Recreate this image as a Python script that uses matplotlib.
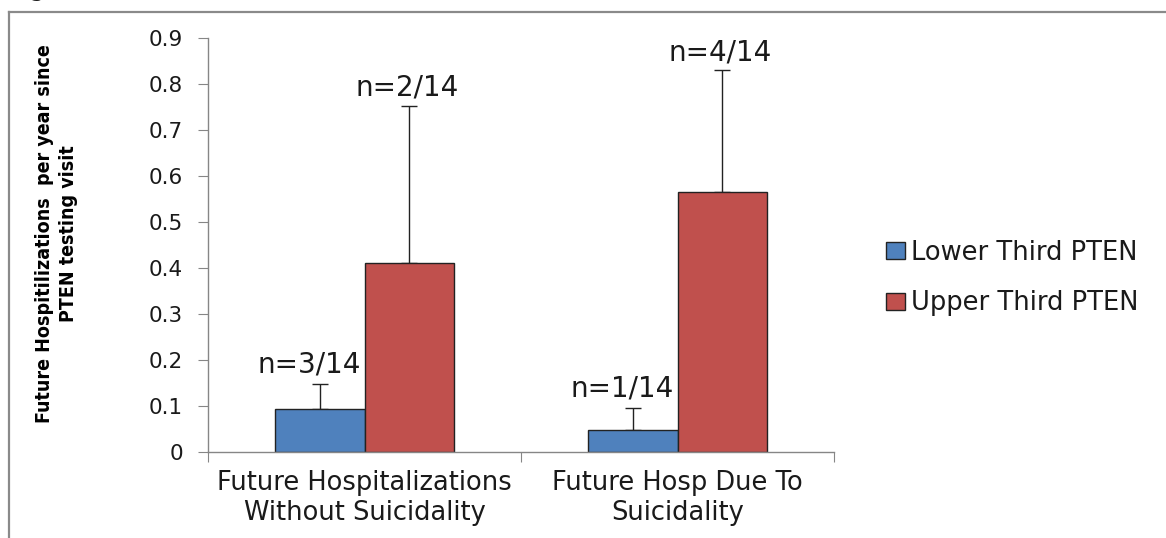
import matplotlib.pyplot as plt
from matplotlib.lines import Line2D
import numpy as np

# -----------------------------
#  Data
# -----------------------------
categories = ["Future Hospitalizations\nWithout Suicidality", "Future Hosp Due To\nSuicidality"]
series_names = ["Lower Third PTEN", "Upper Third PTEN"]
lower_vals = [0.093, 0.048]
lower_err = [0.055, 0.048]
upper_vals = [0.410, 0.565]
upper_err = [0.342, 0.265]
lower_counts = ["n=3/14", "n=1/14"]
upper_counts = ["n=2/14", "n=4/14"]
y_ticks = [0, 0.1, 0.2, 0.3, 0.4, 0.5, 0.6, 0.7, 0.8, 0.9]
y_tick_labels = ["0", "0.1", "0.2", "0.3", "0.4", "0.5", "0.6", "0.7", "0.8", "0.9"]

blue = "#4F81BD"
red = "#C0504D"
gray = "#868686"
txt = "#1a1a1a"

fig = plt.figure(figsize=(11.66, 5.38), dpi=100)
ax = fig.add_axes([208 / 1166, 1 - 452 / 538, 626 / 1166, 414 / 538])

x = np.arange(len(categories))
w = 0.285
ax.bar(x - w / 2, lower_vals, w, color=blue, edgecolor="#222222", linewidth=1.0,
       label=series_names[0], zorder=2)
ax.bar(x + w / 2, upper_vals, w, color=red, edgecolor="#222222", linewidth=1.0,
       label=series_names[1], zorder=2)

# upward-only error bars
ax.errorbar(x - w / 2, lower_vals, yerr=[np.zeros(2), lower_err], fmt="none",
            ecolor="#222222", elinewidth=1.0, capsize=5.5, capthick=1.0, zorder=1)
ax.errorbar(x + w / 2, upper_vals, yerr=[np.zeros(2), upper_err], fmt="none",
            ecolor="#222222", elinewidth=1.0, capsize=5.5, capthick=1.0, zorder=1)

# counts above the error bars
for i in range(len(categories)):
    ax.text(x[i] - w / 2 - 0.035, lower_vals[i] + lower_err[i] + 0.025, lower_counts[i],
            ha="center", va="baseline", fontsize=20, color=txt)
    ax.text(x[i] + w / 2 - 0.005, upper_vals[i] + upper_err[i] + 0.022, upper_counts[i],
            ha="center", va="baseline", fontsize=20, color=txt)

ax.set_xlim(-0.5, 1.5)
ax.set_ylim(0, 0.9)
ax.set_yticks(y_ticks)
ax.set_yticklabels(y_tick_labels, fontsize=15.5, color=txt)
ax.set_xticks([-0.5, 0.5, 1.5])
ax.set_xticklabels([])
ax.set_xticks(x, minor=True)
ax.set_xticklabels(categories, minor=True, fontsize=18.5, color=txt, linespacing=1.2)
ax.tick_params(axis="x", which="minor", length=0, pad=13)
ax.tick_params(axis="x", which="major", length=7, color=gray, direction="out")
ax.tick_params(axis="y", length=7, color=gray, direction="out", pad=11)

for side in ["top", "right"]:
    ax.spines[side].set_visible(False)
for side in ["left", "bottom"]:
    ax.spines[side].set_color(gray)
    ax.spines[side].set_linewidth(1.0)

ax.set_ylabel("Future Hospitilizations  per year since\nPTEN testing visit",
              family="DejaVu Sans", fontstretch="condensed", fontweight="bold",
              fontsize=14, linespacing=1.3, color="black")
ax.yaxis.set_label_coords(-0.208, 0.527)

leg = ax.legend(loc="center left", bbox_to_anchor=(863 / 1166, 1 - 278 / 538),
                bbox_transform=fig.transFigure, frameon=False, fontsize=18.5,
                handlelength=0.75, handleheight=0.65, handletextpad=0.2,
                labelspacing=0.95)
for t in leg.get_texts():
    t.set_color(txt)

# outer frame around the chart area
fig.add_artist(Line2D([9 / 1166, 9 / 1166], [0, 1 - 12 / 538], color="#8a8a8a",
                      linewidth=1.6, transform=fig.transFigure))
fig.add_artist(Line2D([9 / 1166, 1], [1 - 12 / 538, 1 - 12 / 538], color="#8a8a8a",
                      linewidth=1.6, transform=fig.transFigure))
fig.text(0.0, 1 + 4 / 538, "(Figure 1)", fontsize=18, va="baseline", ha="left",
         color=txt)

fig.savefig("out.png", dpi=100)
